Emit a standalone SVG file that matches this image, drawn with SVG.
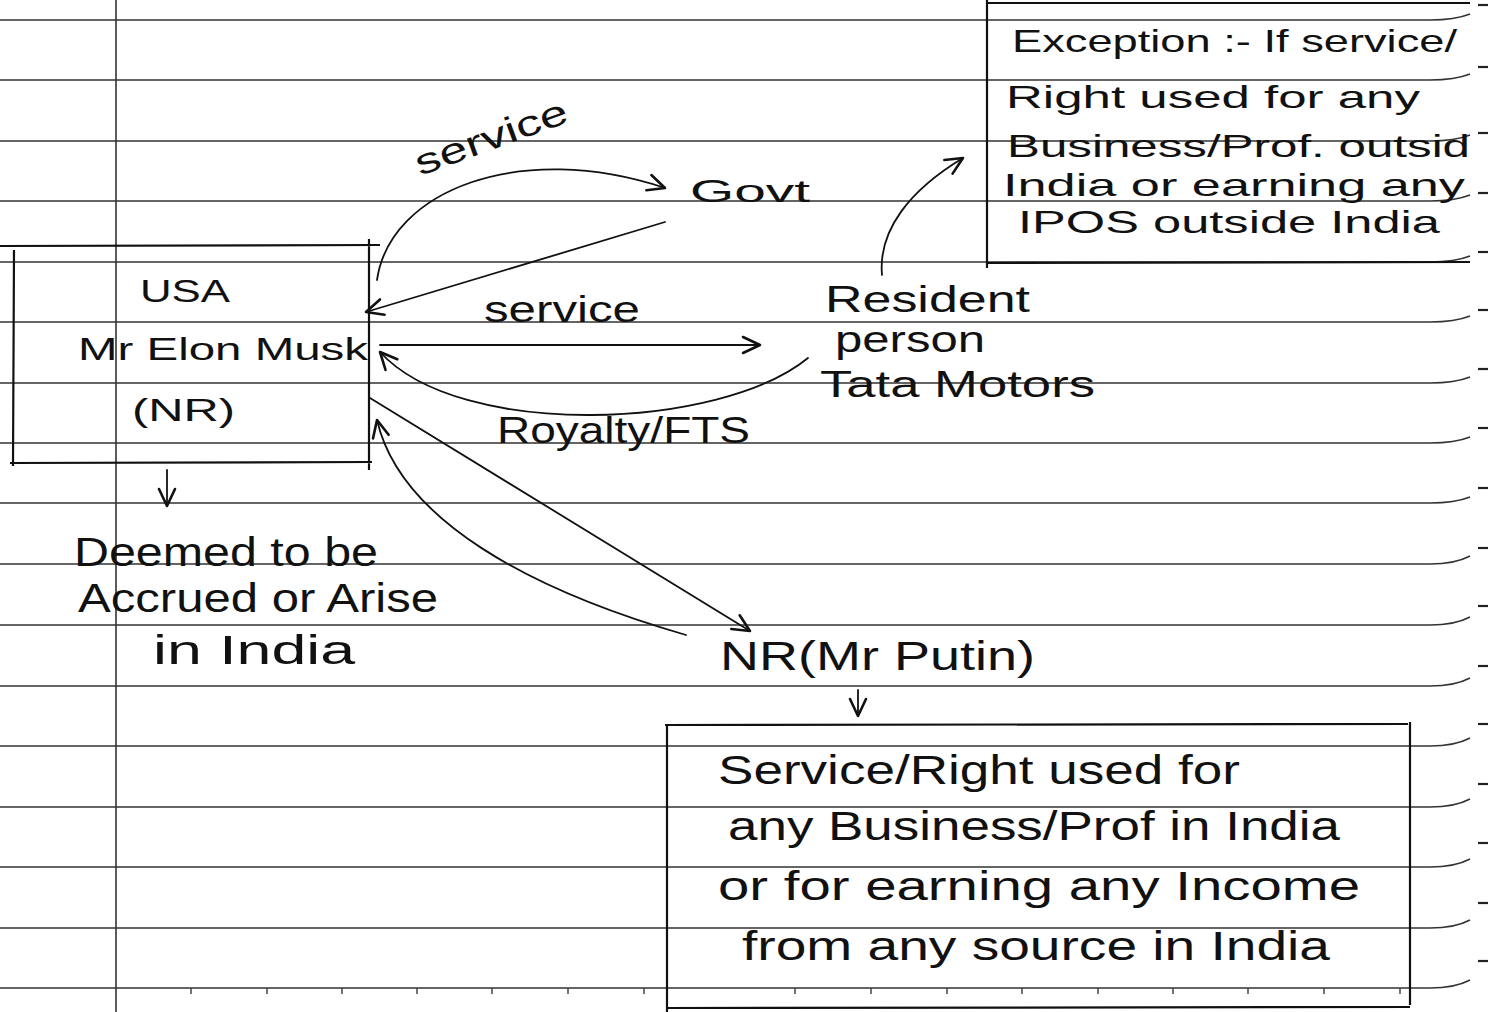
<svg xmlns="http://www.w3.org/2000/svg" width="1488" height="1012" viewBox="0 0 1488 1012">
<defs>
<style>
.rule{fill:none;stroke:#333;stroke-width:1.6}
.dash{stroke:#222;stroke-width:2.2}
.tick{stroke:#444;stroke-width:1.5}
.ink{fill:none;stroke:#111;stroke-width:1.8;stroke-linecap:round;stroke-linejoin:round}
.box{fill:none;stroke:#111;stroke-width:2.2}
.t{font-family:"Liberation Sans",Arial,sans-serif;fill:#111;}
.s32{font-size:32px}
.s36{font-size:36px}
.s40{font-size:40px}
</style>
<marker id="ah" viewBox="-20 -12 24 24" markerWidth="24" markerHeight="24" refX="0" refY="0" orient="auto" markerUnits="userSpaceOnUse">
<path d="M-17 -8 L0 0 L-17 8" fill="none" stroke="#111" stroke-width="2.6" stroke-linecap="round" stroke-linejoin="round"/>
</marker>
</defs>
<rect width="1488" height="1012" fill="#fff"/>
<g id="page">
<path class="rule" d="M0 20H1430Q1455 20 1470 14"/>
<path class="rule" d="M0 80H1430Q1455 80 1470 74"/>
<path class="rule" d="M0 141H1430Q1455 141 1470 135"/>
<path class="rule" d="M0 201H1430Q1455 201 1470 195"/>
<path class="rule" d="M0 262H1430Q1455 262 1470 256"/>
<path class="rule" d="M0 322H1430Q1455 322 1470 316"/>
<path class="rule" d="M0 383H1430Q1455 383 1470 377"/>
<path class="rule" d="M0 443H1430Q1455 443 1470 437"/>
<path class="rule" d="M0 503H1430Q1455 503 1470 497"/>
<path class="rule" d="M0 564H1430Q1455 564 1470 556"/>
<path class="rule" d="M0 625H1430Q1455 625 1470 617"/>
<path class="rule" d="M0 686H1430Q1455 686 1470 678"/>
<path class="rule" d="M0 746H1430Q1455 746 1470 738"/>
<path class="rule" d="M0 807H1430Q1455 807 1470 799"/>
<path class="rule" d="M0 867H1430Q1455 867 1470 859"/>
<path class="rule" d="M0 928H1430Q1455 928 1470 920"/>
<path class="rule" d="M0 988H1430Q1455 988 1470 980"/>
<line class="rule" x1="116" y1="0" x2="116" y2="1012"/>
<g>
<line class="dash" x1="1478" y1="5" x2="1488" y2="5"/>
<line class="dash" x1="1478" y1="67" x2="1488" y2="67"/>
<line class="dash" x1="1478" y1="133" x2="1488" y2="133"/>
<line class="dash" x1="1478" y1="193" x2="1488" y2="193"/>
<line class="dash" x1="1478" y1="252" x2="1488" y2="252"/>
<line class="dash" x1="1478" y1="310" x2="1488" y2="310"/>
<line class="dash" x1="1478" y1="369" x2="1488" y2="369"/>
<line class="dash" x1="1478" y1="428" x2="1488" y2="428"/>
<line class="dash" x1="1478" y1="488" x2="1488" y2="488"/>
<line class="dash" x1="1478" y1="548" x2="1488" y2="548"/>
<line class="dash" x1="1478" y1="606" x2="1488" y2="606"/>
<line class="dash" x1="1478" y1="666" x2="1488" y2="666"/>
<line class="dash" x1="1478" y1="724" x2="1488" y2="724"/>
<line class="dash" x1="1478" y1="784" x2="1488" y2="784"/>
<line class="dash" x1="1478" y1="843" x2="1488" y2="843"/>
<line class="dash" x1="1478" y1="903" x2="1488" y2="903"/>
<line class="dash" x1="1478" y1="961" x2="1488" y2="961"/>
</g>
<g>
<line class="tick" x1="191" y1="988" x2="191" y2="994"/>
<line class="tick" x1="267" y1="988" x2="267" y2="994"/>
<line class="tick" x1="342" y1="988" x2="342" y2="994"/>
<line class="tick" x1="417" y1="988" x2="417" y2="994"/>
<line class="tick" x1="492" y1="988" x2="492" y2="994"/>
<line class="tick" x1="568" y1="988" x2="568" y2="994"/>
<line class="tick" x1="644" y1="988" x2="644" y2="994"/>
<line class="tick" x1="795" y1="988" x2="795" y2="994"/>
<line class="tick" x1="871" y1="988" x2="871" y2="994"/>
<line class="tick" x1="947" y1="988" x2="947" y2="994"/>
<line class="tick" x1="1022" y1="988" x2="1022" y2="994"/>
<line class="tick" x1="1098" y1="988" x2="1098" y2="994"/>
<line class="tick" x1="1173" y1="988" x2="1173" y2="994"/>
<line class="tick" x1="1248" y1="988" x2="1248" y2="994"/>
<line class="tick" x1="1324" y1="988" x2="1324" y2="994"/>
<line class="tick" x1="1400" y1="988" x2="1400" y2="994"/>
</g>
</g>

<g id="usa-box">
<path class="box" d="M0 246L380 245M14 250L13 466M10 463L372 462M369 239L369 470"/>
<text class="t s32" x="140" y="302" textLength="90" lengthAdjust="spacingAndGlyphs">USA</text>
<text class="t s32" x="78" y="360" textLength="290" lengthAdjust="spacingAndGlyphs">Mr Elon Musk</text>
<text class="t s32" x="132" y="421" textLength="103" lengthAdjust="spacingAndGlyphs">(NR)</text>
</g>

<g id="govt">
<text class="t s32" x="690" y="202" textLength="120" lengthAdjust="spacingAndGlyphs">Govt</text>
</g>

<g id="resident">
<text class="t s36" x="825" y="312" textLength="205" lengthAdjust="spacingAndGlyphs">Resident</text>
<text class="t s36" x="835" y="352" textLength="150" lengthAdjust="spacingAndGlyphs">person</text>
<text class="t s36" x="820" y="397" textLength="275" lengthAdjust="spacingAndGlyphs">Tata Motors</text>
</g>

<g id="exception-box">
<path class="box" d="M987 0L987 268M987 3L1470 3M987 263L1470 262"/>
<text class="t s32" x="1012" y="52" textLength="445" lengthAdjust="spacingAndGlyphs">Exception :- If service/</text>
<text class="t s32" x="1006" y="108" textLength="414" lengthAdjust="spacingAndGlyphs">Right used for any</text>
<text class="t s32" x="1007" y="157" textLength="463" lengthAdjust="spacingAndGlyphs">Business/Prof. outsid</text>
<text class="t s32" x="1003" y="196" textLength="462" lengthAdjust="spacingAndGlyphs">India or earning any</text>
<text class="t s32" x="1018" y="233" textLength="422" lengthAdjust="spacingAndGlyphs">IPOS outside India</text>
</g>

<g id="deemed">
<text class="t s40" x="74" y="566" textLength="304" lengthAdjust="spacingAndGlyphs">Deemed to be</text>
<text class="t s40" x="78" y="612" textLength="360" lengthAdjust="spacingAndGlyphs">Accrued or Arise</text>
<text class="t s40" x="153" y="664" textLength="202" lengthAdjust="spacingAndGlyphs">in India</text>
</g>

<g id="nr-putin">
<text class="t s40" x="720" y="670" textLength="315" lengthAdjust="spacingAndGlyphs">NR(Mr Putin)</text>
</g>

<g id="nr-box">
<path class="box" d="M665 725L1408 724M667 724L667 1012M1410 722L1410 1005M667 1008L1410 1007"/>
<text class="t s40" x="718" y="784" textLength="522" lengthAdjust="spacingAndGlyphs">Service/Right used for</text>
<text class="t s40" x="728" y="840" textLength="612" lengthAdjust="spacingAndGlyphs">any Business/Prof in India</text>
<text class="t s40" x="718" y="900" textLength="642" lengthAdjust="spacingAndGlyphs">or for earning any Income</text>
<text class="t s40" x="742" y="960" textLength="588" lengthAdjust="spacingAndGlyphs">from any source in India</text>
</g>

<g id="connectors">
<path class="ink" marker-end="url(#ah)" d="M377 280C390 190 520 140 665 188"/>
<text class="t s36" transform="rotate(-20 420 176)" x="420" y="176" textLength="160" lengthAdjust="spacingAndGlyphs">service</text>
<path class="ink" marker-end="url(#ah)" d="M665 222L366 312"/>
<path class="ink" marker-end="url(#ah)" d="M380 345L760 345"/>
<text class="t s36" x="484" y="322" textLength="156" lengthAdjust="spacingAndGlyphs">service</text>
<path class="ink" marker-end="url(#ah)" d="M808 358C720 430 460 440 380 352"/>
<text class="t s36" x="497" y="443" textLength="253" lengthAdjust="spacingAndGlyphs">Royalty/FTS</text>
<path class="ink" marker-end="url(#ah)" d="M370 398L750 631"/>
<path class="ink" marker-end="url(#ah)" d="M686 635C530 590 400 520 377 420"/>
<path class="ink" marker-end="url(#ah)" d="M882 275C878 230 910 190 963 158"/>
<path class="ink" marker-end="url(#ah)" d="M167 470L167 506"/>
<path class="ink" marker-end="url(#ah)" d="M858 690L858 716"/>
</g>
</svg>
